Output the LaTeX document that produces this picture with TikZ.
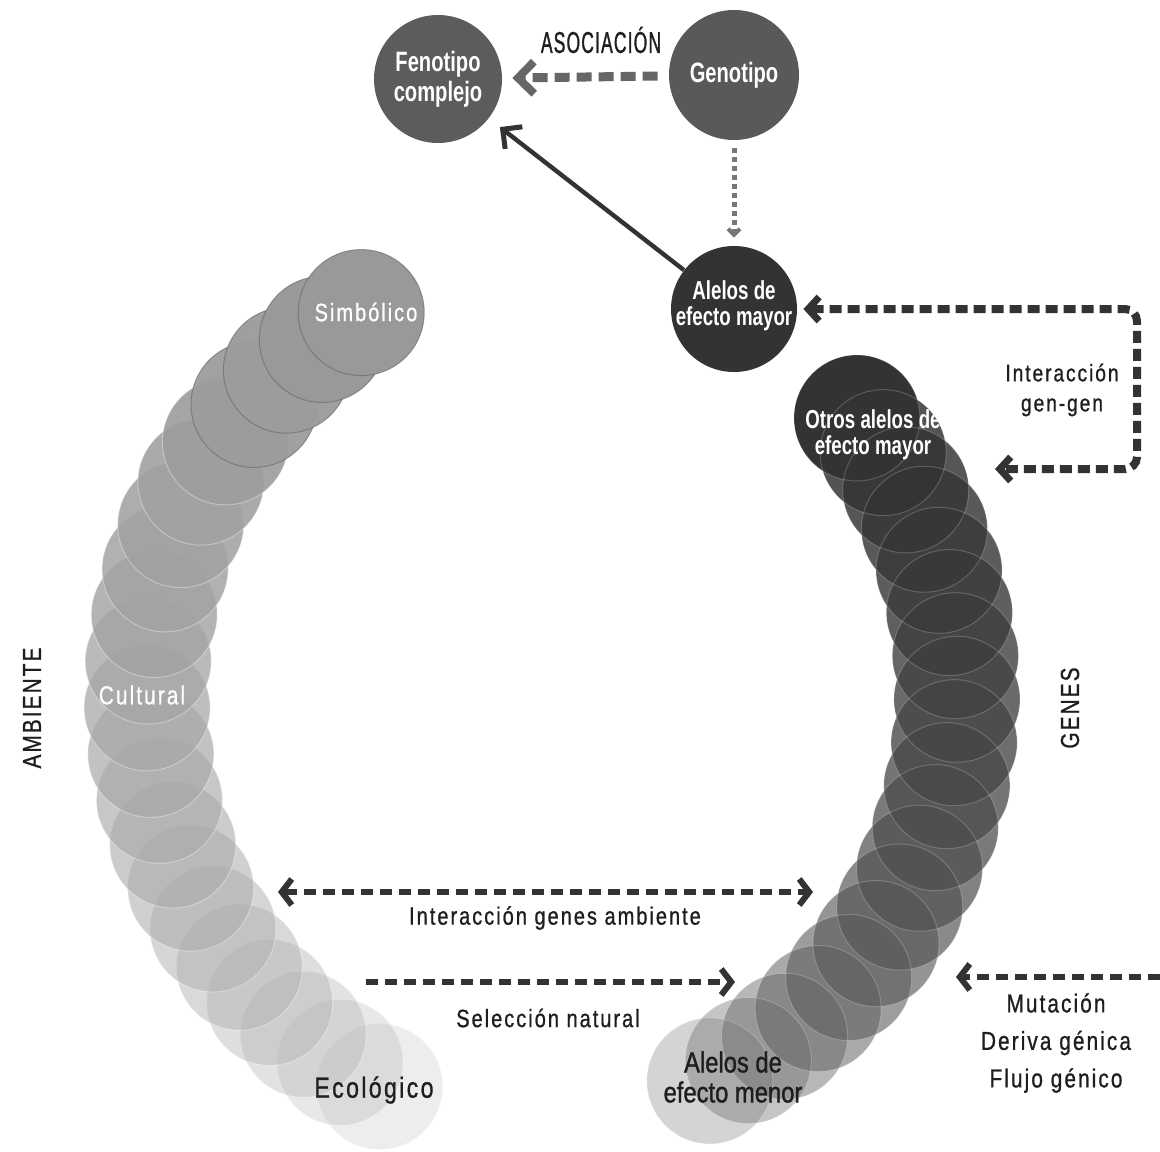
\documentclass[tikz,border=0pt]{standalone}
\usepackage{fontspec}
\setmainfont{Liberation Sans}
\newfontfamily\fLab{Liberation Sans}[FakeStretch=0.8,LetterSpace=8,FakeBold=0.8]
\newfontfamily\fAso{Liberation Sans}[FakeStretch=0.58,LetterSpace=4,FakeBold=1]
\newfontfamily\fBld{Liberation Sans}[FakeStretch=0.72]
\newfontfamily\fMen{Liberation Sans}[FakeStretch=0.82,FakeBold=1.2]
\usetikzlibrary{arrows.meta}
\definecolor{txt}{HTML}{1E1E1E}
\definecolor{dkline}{HTML}{333333}
\definecolor{asoline}{HTML}{666666}
\definecolor{dotline}{HTML}{777777}
\definecolor{fencol}{HTML}{5C5C5C}
\definecolor{gencol}{HTML}{595959}
\definecolor{almcol}{HTML}{333333}
\tikzset{
  BarbD/.tip={Straight Barb[length=5pt,width=13pt,line width=3pt]},
  BarbG/.tip={Straight Barb[length=5.5pt,width=12pt,line width=3.5pt]},
  BarbA/.tip={Straight Barb[length=8pt,width=16pt,line width=4pt]},
  BarbS/.tip={Straight Barb[length=3pt,width=6pt,line width=2pt]},
  BarbL/.tip={Straight Barb[length=7pt,width=14pt,line width=2.5pt]},
  bignode/.style={circle,inner sep=0pt,text=white,align=center,
    font=\fBld\bfseries\fontsize{14}{15}\selectfont},
  midnode/.style={inner sep=0pt,text=white,align=center,
    font=\fBld\bfseries\fontsize{13}{12.8}\selectfont},
  wlab/.style={text=white,inner sep=0pt,font=\fLab\fontsize{12.5}{15}\selectfont},
  blab/.style={text=txt,inner sep=0pt,align=center,font=\fLab\fontsize{12.5}{15}\selectfont},
  dkdash/.style={draw=dkline,line width=2.8pt,dash pattern=on 6pt off 3.5pt},
  ggdash/.style={draw=dkline,line width=4pt,dash pattern=on 6pt off 3pt,rounded corners=6pt},
  asodash/.style={draw=asoline,line width=4.5pt,dash pattern=on 7.5pt off 3.5pt},
  dotdash/.style={draw=dotline,line width=2.5pt,dash pattern=on 2.5pt off 2pt},
  solidline/.style={draw=dkline,line width=2.2pt},
}
\begin{document}
\begin{tikzpicture}[x=0.5pt,y=-0.5pt]
\useasboundingbox (0,0) rectangle (1160,1151);
\fill[white] (0,0) rectangle (1160,1151);

% ---- left arc (Ambiente)
\foreach \i in {20,19,...,0}{
  \pgfmathsetmacro\tv{\i/20}
  \pgfmathsetmacro\ang{121+6*\i}
  \pgfmathsetmacro\rr{452-10*\tv}
  \pgfmathsetmacro\cx{594+\rr*cos(\ang)}
  \pgfmathsetmacro\cy{700-\rr*sin(\ang)}
  \pgfmathtruncatemacro\cv{60+12*\tv}
  \pgfmathsetmacro\aop{1-0.3*\tv-0.45*\tv*\tv}
  \ifnum\i<4
    \fill[white!\cv!black,fill opacity=\aop,draw=black!60,draw opacity=0.6,line width=0.5pt] (\cx,\cy) circle[radius=63];
  \else
    \fill[white!\cv!black,fill opacity=\aop,draw=white,draw opacity=0.35,line width=0.5pt] (\cx,\cy) circle[radius=63];
  \fi
}

% ---- right arc (Genes)
\foreach \i in {18,17,...,1}{
  \pgfmathsetmacro\tv{\i/18}
  \pgfmathsetmacro\ang{40-5.8333*\i}
  \pgfmathsetmacro\cx{529+428*cos(\ang)}
  \pgfmathsetmacro\cy{693-428*sin(\ang)}
  \pgfmathtruncatemacro\cv{20+15*\tv+10*\tv*\tv}
  \pgfmathsetmacro\aop{0.85-0.1*\tv-0.45*\tv*\tv*\tv*\tv}
  \fill[white!\cv!black,fill opacity=\aop] (\cx,\cy) circle[radius=63];
}
\fill[almcol] (857,418) circle[radius=63];
\foreach \i in {18,17,...,0}{
  \pgfmathsetmacro\ang{40-5.8333*\i}
  \pgfmathsetmacro\cx{529+428*cos(\ang)}
  \pgfmathsetmacro\cy{693-428*sin(\ang)}
  \draw[white,opacity=0.2,line width=0.5pt] (\cx,\cy) circle[radius=63];
}

% ---- top nodes
\node[bignode,fill=fencol,minimum size=64pt] (fen) at (438,79) {Fenotipo\\complejo};
\node[bignode,fill=gencol,minimum size=65pt] (gen) at (734,75) {Genotipo};
\node[circle,fill=almcol,minimum size=63pt,inner sep=0pt] (alm) at (734,309) {};
\node[midnode] (almtxt) at (734,306) {Alelos de\\efecto mayor};

% ---- labels in arcs
\node[wlab] (simb) at (366,312) {Simbólico};
\node[wlab,font=\fLab\fontsize{13}{15}\selectfont] (cult) at (142,695) {Cultural};
\node[blab,font=\fLab\fontsize{14.5}{15}\selectfont] (ecol) at (374,1090) {Ecológico};
\node[midnode] (otros) at (873,435) {Otros alelos de\\efecto mayor};
\node[text=txt,inner sep=0pt,align=center,font=\fMen\fontsize{14.5}{15}\selectfont] (menor) at (733,1077) {Alelos de\\efecto menor};

% ---- free labels
\node[text=txt,inner sep=0pt,font=\fAso\fontsize{15}{15}\selectfont] (aso) at (601,40) {ASOCIACIÓN};
\node[blab,font=\fLab\fontsize{12}{15}\selectfont] (ggl) at (1062,390) {Interacción\\gen-gen};
\node[blab,font=\fLab\fontsize{13}{15}\selectfont,rotate=90] (amb) at (32,708) {AMBIENTE};
\node[blab,font=\fLab\fontsize{13}{15}\selectfont,rotate=90] (genes) at (1070,708) {GENES};
\node[blab] (igal) at (555,918) {Interacción genes ambiente};
\node[blab] (sell) at (548,1018) {Selección natural};
\node[blab,font=\fLab\fontsize{13}{18.75}\selectfont] (mutl) at (1056,1043) {Mutación\\Deriva génica\\Flujo génico};

% ---- coordinates for free ends
\coordinate (ggA) at (1137,309);
\coordinate (ggB) at (1137,469);
\coordinate (ggC) at (995,469);
\coordinate (igaL) at (278,892);
\coordinate (igaR) at (813,892);
\coordinate (selA) at (366,982);
\coordinate (selB) at (735,982);
\coordinate (mutA) at (1160,977);
\coordinate (mutB) at (956,977);

% ---- connectors
\draw[asodash,-BarbA,shorten <=5.5pt,shorten >=5pt] (gen) -- (fen);
\draw[dotdash,-BarbS,shorten <=4pt,shorten >=4pt] (gen) -- (alm);
\draw[solidline,-BarbL,shorten >=7pt] (alm) -- (fen);
\draw[ggdash,BarbG-BarbG,shorten <=3pt] (alm) -- (ggA) -- (ggB) -- (ggC);
\draw[dkdash,BarbD-BarbD] (igaL) -- (igaR);
\draw[dkdash,-BarbD] (selA) -- (selB);
\draw[dkdash,-BarbD] (mutA) -- (mutB);
\end{tikzpicture}
\end{document}
